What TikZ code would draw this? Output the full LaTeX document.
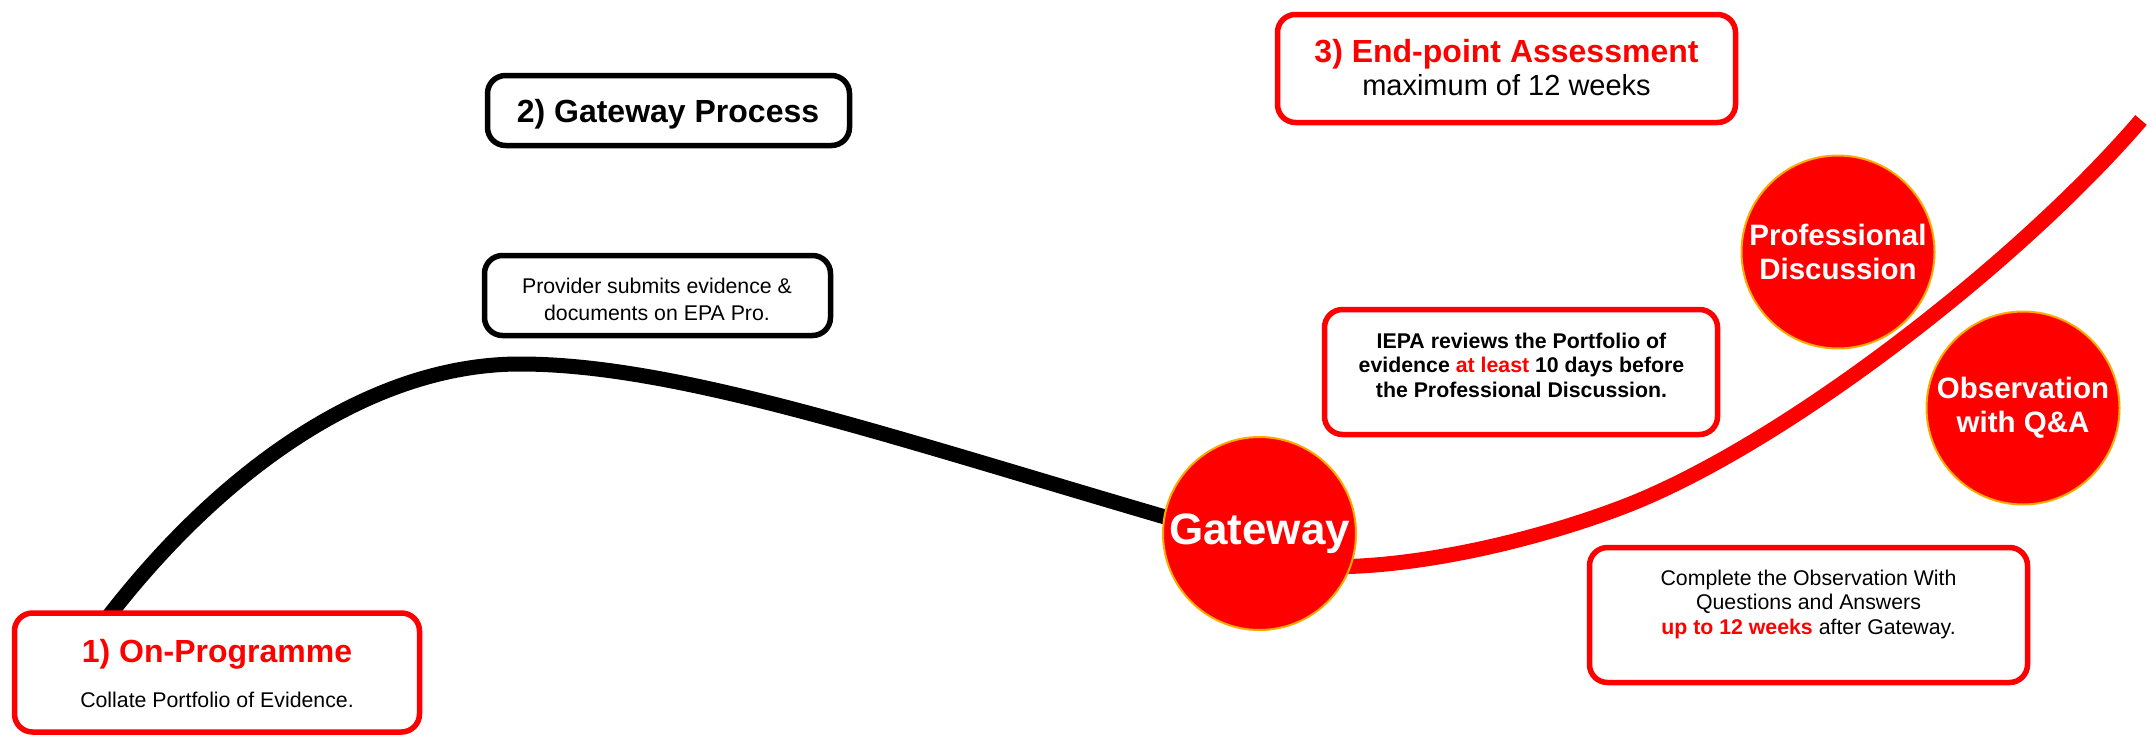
\documentclass[tikz,border=0pt]{standalone}
\usepackage{fontspec}
\setmainfont{Liberation Sans}
\usetikzlibrary{backgrounds}
\definecolor{brred}{RGB}{255,0,0}
\definecolor{ringorange}{RGB}{255,170,0}
\tikzset{
  panel/.style={draw, line width=5.5, rounded corners=18, fill=white, inner sep=0},
  redpanel/.style={panel, draw=brred},
  blackpanel/.style={panel, draw=black},
  stage/.style={circle, fill=brred, draw=ringorange, line width=2, minimum size=193,
    inner sep=0, text=white, align=center, font=\bfseries\fontsize{29.5}{34}\selectfont},
  headline/.style={font=\bfseries\fontsize{32}{38}\selectfont, anchor=base},
  bodytext/.style={font=\fontsize{21.3}{26.5}\selectfont, align=center, anchor=base},
  track/.style={line width=15},
}
\begin{document}
\begin{tikzpicture}[x=1pt,y=-1pt]
\useasboundingbox (0,0) rectangle (2152,736);

% stage 1
\node[redpanel, minimum width=405, minimum height=119] (onprog) at (217,672.5) {};
\node[headline, text=brred] (onprogT) at (217,662) {1) On-Programme};
\node[bodytext] (onprogB) at (217,707) {Collate Portfolio of Evidence.};

% stage 2
\node[blackpanel, minimum width=362, minimum height=70] (gwproc) at (668.5,110.5) {};
\node[headline] (gwprocT) at (668,122) {2) Gateway Process};
\node[blackpanel, minimum width=346, minimum height=80] (submit) at (657.5,295.5) {};
% multi-line texts are anchored on the baseline of their last line
\node[bodytext] (submitT) at (657,320) {Provider submits evidence \&\\documents on EPA Pro.};

% stage 3
\node[redpanel, minimum width=458, minimum height=108] (epa) at (1506.5,68.5) {};
\node[headline, text=brred] (epaT) at (1506.5,62) {3) End-point Assessment};
\node[font=\fontsize{29}{34}\selectfont, anchor=base] (epaB) at (1506.5,95) {maximum of 12 weeks};

\node[redpanel, minimum width=393, minimum height=125] (review) at (1521,372) {};
\node[bodytext, font=\bfseries\fontsize{21.3}{24.5}\selectfont] (reviewT) at (1521.5,397)
  {IEPA reviews the Portfolio of\\evidence \textcolor{brred}{at least} 10 days before\\the Professional Discussion.};

\node[redpanel, minimum width=438, minimum height=135] (obsbox) at (1808.5,615) {};
\node[bodytext, font=\fontsize{21.3}{24.5}\selectfont] (obsboxT) at (1808.5,634)
  {Complete the Observation With\\Questions and Answers\\\textcolor{brred}{\textbf{up to 12 weeks}} after Gateway.};

% milestones
\node[stage, font=\bfseries\fontsize{44}{50}\selectfont] (gateway) at (1259.5,533.5) {Gateway};
\node[stage] (profdisc) at (1838,252) {Professional\\Discussion};
\node[stage] (observe) at (2023,408) {Observation\\with Q\&A};

% journey tracks
\coordinate (rise) at (111,613);
\coordinate (redtip) at (2141,120);
\begin{scope}[on background layer]
  \draw[track, black, shorten <=-12pt, shorten >=-20pt]
    (rise) .. controls (220,470) and (370,364) .. (520,364)
    .. controls (680,364) and (900,440) .. (gateway.170);
  \draw[track, draw=brred, shorten <=-20pt]
    (gateway.-20) .. controls (1430,567) and (1553,535) .. (1633,503)
    .. controls (1793,438) and (2022,259) .. (redtip);
\end{scope}
\end{tikzpicture}
\end{document}
